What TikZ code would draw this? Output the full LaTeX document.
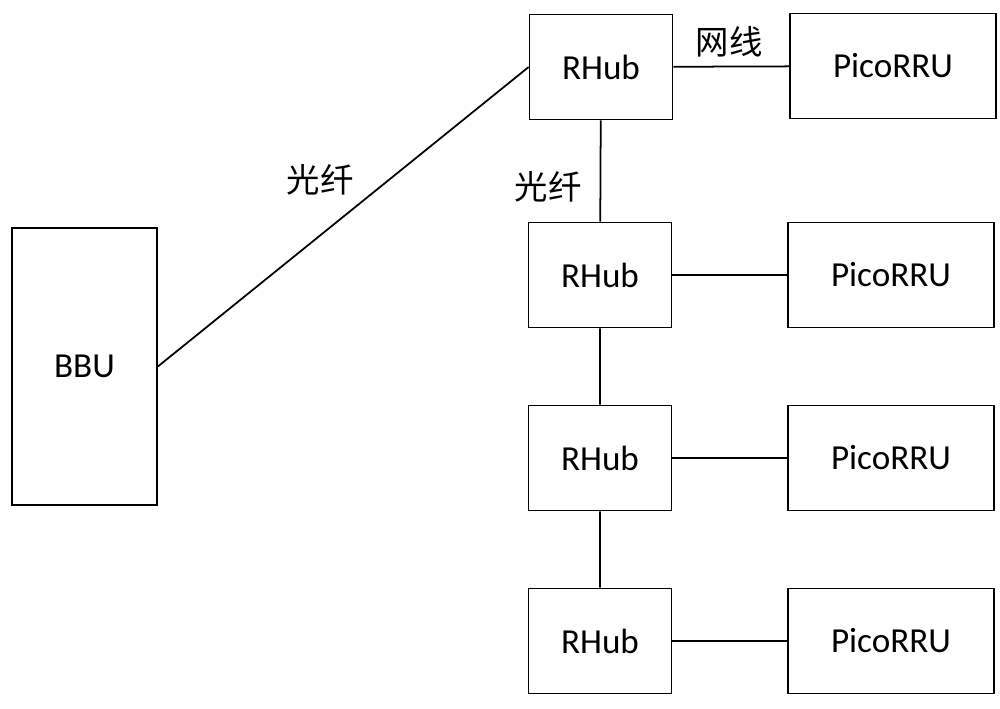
\documentclass[tikz,border=0pt]{standalone}
\usepackage{fontspec}
\setmainfont{Carlito}
\newfontfamily\cjk{Noto Sans CJK SC}
\begin{document}
\begin{tikzpicture}[x=0.02cm,y=-0.02cm,
    box/.style={draw,line width=1pt,inner sep=0pt,font=\fontsize{20}{24}\selectfont},
    hub/.style={box,minimum width=2.86cm,minimum height=2.1cm},
    pico/.style={box,minimum width=4.12cm,minimum height=2.1cm},
    lbl/.style={font=\cjk\fontsize{19}{22}\selectfont}]
  \useasboundingbox (0,0) rectangle (1000,708);
  \node[box,minimum width=2.9cm,minimum height=5.54cm] (bbu) at (84.5,366.5) {BBU};
  \node[hub] (hub1) at (601,67) {RHub};
  \node[hub] (hub2) at (600,275) {RHub};
  \node[hub] (hub3) at (600,458) {RHub};
  \node[hub] (hub4) at (600,641) {RHub};
  \node[pico] (pico1) at (893,66) {PicoRRU};
  \node[pico] (pico2) at (891,275) {PicoRRU};
  \node[pico] (pico3) at (891,458) {PicoRRU};
  \node[pico] (pico4) at (891,641) {PicoRRU};
  \draw[line width=1pt] (bbu.east) -- (hub1.west);
  \draw[line width=1pt] (hub1) -- (hub2) -- (hub3) -- (hub4);
  \foreach \i in {1,...,4}
    \draw[line width=1pt] (hub\i) -- (pico\i);
  \node[lbl] (fiber1) at (320,180) {光纤};
  \node[lbl] (fiber2) at (548,187) {光纤};
  \node[lbl] (cable) at (729,42) {网线};
\end{tikzpicture}
\end{document}
